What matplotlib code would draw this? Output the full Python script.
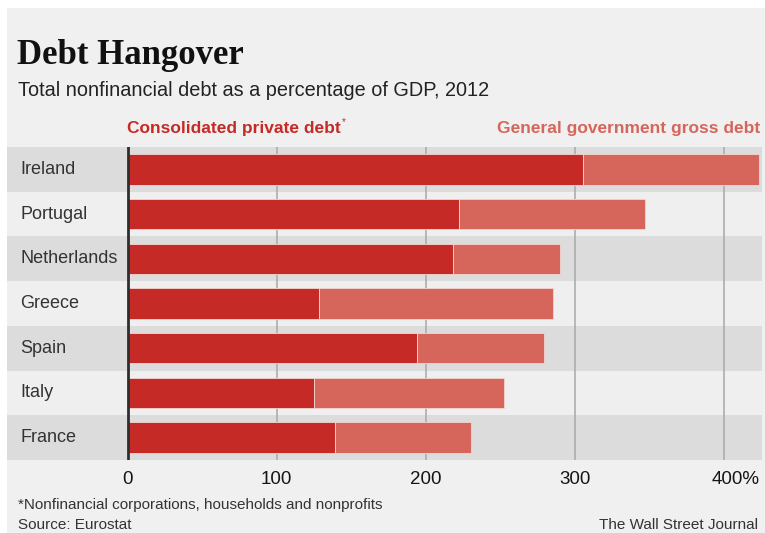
import numpy as np
import matplotlib as mpl
import matplotlib.pyplot as plt
from matplotlib.transforms import ScaledTranslation

sans = ['Liberation Sans', 'DejaVu Sans']
mpl.rc('font', family=sans)

countries = ['Ireland', 'Portugal', 'Netherlands', 'Greece', 'Spain', 'Italy', 'France']
private_debt = [305, 222, 218, 128, 194, 125, 139]
government_debt = [118, 125, 72, 157, 85, 127, 91]
ticks = [0, 100, 200, 300, 400]
tick_labels = ['0', '100', '200', '300', '400%']

red = '#c62a27'
salmon = '#d6655b'
band_dark = '#dcdcdc'
band_light = '#efefef'
bg = '#f0f0f0'

W, H = 765, 533
fig = plt.figure(figsize=(W/100, H/100), dpi=100, facecolor='white')

def px(x, y):
    return x/W, 1 - y/H

# grey panel with a thin white border
fig.patches.append(plt.Rectangle(px(7, H), 1, (H - 8)/H, transform=fig.transFigure,
                                 facecolor=bg, edgecolor='none', zorder=-5))

x0, y0 = px(7, 460)
x1, y1 = px(762, 147)
ax = fig.add_axes([x0, y0, x1 - x0, y1 - y0])
ax.set_facecolor(bg)

y = np.arange(len(countries))
for i in y:
    ax.axhspan(i - 0.5, i + 0.5, color=band_dark if i % 2 == 0 else band_light, lw=0, zorder=0)

for t in ticks[1:]:
    ax.axvline(t, color='#a8a8a8', lw=1.1, zorder=1)

ax.barh(y, private_debt, height=0.68, color=red, edgecolor='#f3d6d0', lw=0.6, zorder=3)
ax.barh(y, government_debt, left=private_debt, height=0.68, color=salmon,
        edgecolor='#f3d6d0', lw=0.6, zorder=3)
ax.axvline(0, color='#2e2e2e', lw=2, zorder=4)

ax.set_xlim(-80.8, 425.2)
ax.set_ylim(len(countries) - 0.5, -0.5)
for s in ax.spines.values():
    s.set_visible(False)
ax.set_yticks([])
ax.set_xticks(ticks)
ax.set_xticklabels(tick_labels, fontsize=13.5, color='#151515')
ax.tick_params(axis='x', length=0, pad=8)
last = ax.get_xticklabels()[-1]
last.set_transform(last.get_transform() + ScaledTranslation(11/100, 0, fig.dpi_scale_trans))

for i, name in zip(y, countries):
    ax.text(-72, i, name, fontsize=13, color='#333333', va='center', ha='left')

fig.text(*px(17, 64), 'Debt Hangover', family=['Liberation Serif'], weight='bold',
         fontsize=25, color='#111111')
fig.text(*px(18, 96), 'Total nonfinancial debt as a percentage of GDP, 2012',
         fontsize=14.3, color='#222222')
legend_private = fig.text(*px(127, 133), 'Consolidated private debt', fontsize=12.5,
                          weight='bold', color=red)
fig.text(*px(760, 133), 'General government gross debt', fontsize=12.5, weight='bold',
         color=salmon, ha='right')

# footnote marker just after the private-debt label
renderer = fig.canvas.get_renderer()
bb = legend_private.get_window_extent(renderer)
fig.text(bb.x1/W + 1/W, (bb.y1 - 4)/H, '*', fontsize=7, color=red)

fig.text(*px(18, 509), '*Nonfinancial corporations, households and nonprofits',
         fontsize=11, color='#333333')
fig.text(*px(18, 529), 'Source: Eurostat', fontsize=11, color='#333333')
fig.text(*px(758, 529), 'The Wall Street Journal', fontsize=11, color='#333333', ha='right')

fig.savefig('out.png', dpi=100, facecolor=fig.get_facecolor())
